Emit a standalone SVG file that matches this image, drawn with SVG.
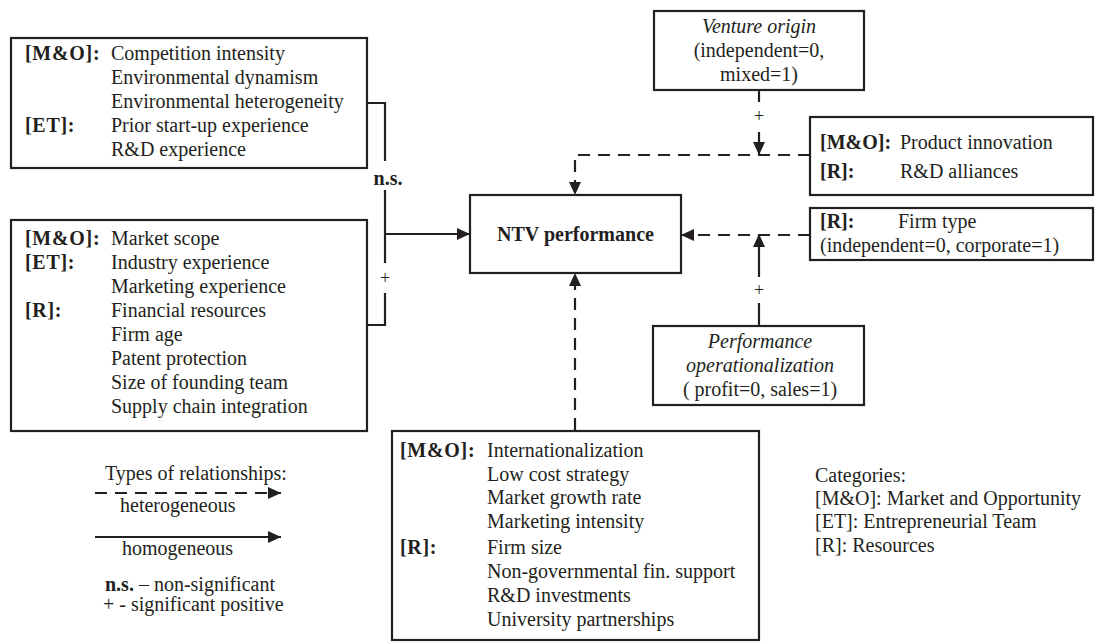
<svg xmlns="http://www.w3.org/2000/svg" width="1101" height="642" viewBox="0 0 1101 642">
<defs>
<style>
text{font-family:"Liberation Serif","Times New Roman",serif;font-size:20px;fill:#231f20}
.b{font-weight:bold}
.bl{font-weight:bold;letter-spacing:0.7px}
.i{font-style:italic}
.c{text-anchor:middle}
.box{fill:#fff;stroke:#231f20;stroke-width:2.2}
.ln{fill:none;stroke:#231f20;stroke-width:2.2}
.ds{stroke-dasharray:12 8}
.pl{font-size:18px}
</style>
<marker id="ah" viewBox="0 0 13 12" refX="13" refY="6" markerWidth="13" markerHeight="12" orient="auto" markerUnits="userSpaceOnUse">
<path d="M0,0 L13,6 L0,12 z" fill="#231f20"/>
</marker>
</defs>
<rect width="1101" height="642" fill="#fff"/>

<g id="connectors">
<path class="ln" d="M366,103 H385 V161"/>
<path class="ln" d="M385,190 V263"/>
<path class="ln" d="M385,234 H470" marker-end="url(#ah)"/>
<path class="ln" d="M366,325 H385 V293"/>
<text class="b" x="388" y="185" text-anchor="middle">n.s.</text>
<text class="pl c" x="385" y="284">+</text>

<path class="ln" d="M759,90 V102"/>
<path class="ln" d="M759,132 V155" marker-end="url(#ah)"/>
<text class="pl c" x="759" y="122">+</text>
<path class="ln ds" d="M810,155 H575 V195" marker-end="url(#ah)"/>
<path class="ln ds" d="M810,235 H681" marker-end="url(#ah)"/>
<path class="ln" d="M759,325 V303"/>
<path class="ln" d="M759,277 V234" marker-end="url(#ah)"/>
<text class="pl c" x="759" y="296">+</text>
<path class="ln ds" d="M575,430 V273" marker-end="url(#ah)"/>
</g>

<g id="box-top-left">
<rect class="box" x="11" y="38" width="356" height="130"/>
<text class="bl" x="25" y="60">[M&amp;O]:</text>
<text x="111" y="60">Competition intensity</text>
<text x="111" y="84">Environmental dynamism</text>
<text x="111" y="108">Environmental heterogeneity</text>
<text class="bl" x="25" y="132">[ET]:</text>
<text x="111" y="132">Prior start-up experience</text>
<text x="111" y="156">R&amp;D experience</text>
</g>

<g id="box-mid-left">
<rect class="box" x="11" y="220" width="356" height="211"/>
<text class="bl" x="25" y="245">[M&amp;O]:</text>
<text x="111" y="245">Market scope</text>
<text class="bl" x="25" y="269">[ET]:</text>
<text x="111" y="269">Industry experience</text>
<text x="111" y="293">Marketing experience</text>
<text class="bl" x="25" y="317">[R]:</text>
<text x="111" y="317">Financial resources</text>
<text x="111" y="341">Firm age</text>
<text x="111" y="365">Patent protection</text>
<text x="111" y="389">Size of founding team</text>
<text x="111" y="413">Supply chain integration</text>
</g>

<g id="ntv">
<rect class="box" x="470" y="195" width="211" height="78"/>
<text class="b c" x="575.5" y="241">NTV performance</text>
</g>

<g id="venture-origin">
<rect class="box" x="654" y="11" width="210" height="79"/>
<text class="i c" x="759" y="33">Venture origin</text>
<text class="c" x="759" y="57">(independent=0,</text>
<text class="c" x="759" y="81">mixed=1)</text>
</g>

<g id="product-innovation">
<rect class="box" x="810" y="117" width="283" height="78"/>
<text class="b" x="820" y="149">[M&amp;O]:</text>
<text x="900" y="149">Product innovation</text>
<text class="b" x="820" y="178">[R]:</text>
<text x="900" y="178">R&amp;D alliances</text>
</g>

<g id="firm-type">
<rect class="box" x="810" y="208" width="283" height="52"/>
<text class="b" x="820" y="228">[R]:</text>
<text x="898" y="228">Firm type</text>
<text x="820" y="252">(independent=0, corporate=1)</text>
</g>

<g id="performance-op">
<rect class="box" x="653" y="326" width="211" height="79"/>
<text class="i c" x="760" y="348">Performance</text>
<text class="i c" x="760" y="372">operationalization</text>
<text class="c" x="760" y="396">( profit=0, sales=1)</text>
</g>

<g id="box-bottom">
<rect class="box" x="392" y="431" width="367" height="209"/>
<text class="bl" x="400" y="457">[M&amp;O]:</text>
<text x="487" y="457">Internationalization</text>
<text x="487" y="481">Low cost strategy</text>
<text x="487" y="504">Market growth rate</text>
<text x="487" y="528">Marketing intensity</text>
<text class="bl" x="400" y="554">[R]:</text>
<text x="487" y="554">Firm size</text>
<text x="487" y="578">Non-governmental fin. support</text>
<text x="487" y="602">R&amp;D investments</text>
<text x="487" y="626">University partnerships</text>
</g>

<g id="legend">
<text x="105" y="480">Types of relationships:</text>
<path class="ln ds" d="M95,493 H281" marker-end="url(#ah)"/>
<text x="120" y="512">heterogeneous</text>
<path class="ln" d="M95,537 H281" marker-end="url(#ah)"/>
<text x="122" y="555">homogeneous</text>
<text x="105" y="591"><tspan class="b">n.s.</tspan> – non-significant</text>
<text x="103" y="611">+ - significant positive</text>
</g>

<g id="categories">
<text x="815" y="482">Categories:</text>
<text x="815" y="505">[M&amp;O]: Market and Opportunity</text>
<text x="815" y="528">[ET]: Entrepreneurial Team</text>
<text x="815" y="552">[R]: Resources</text>
</g>
</svg>
